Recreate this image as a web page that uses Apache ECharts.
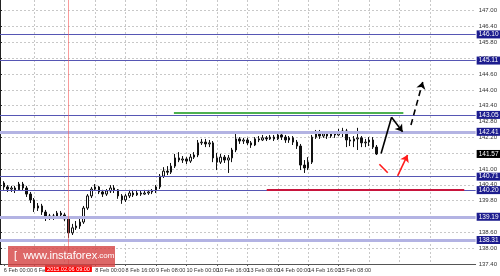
<!DOCTYPE html>
<html><head><meta charset="utf-8">
<script src="https://cdn.jsdelivr.net/npm/echarts@6/dist/echarts.min.js"></script>
<style>html,body{margin:0;padding:0;background:#fff;overflow:hidden}#c{width:500px;height:276px}</style>
</head><body><div id="c"></div>
<script>
// x-axis time labels (every 8th bar, starting at bar 1)
const tickLabels = ["6 Feb 00:00","6 Feb 16:00","","8 Feb 00:00","8 Feb 16:00","9 Feb 08:00","10 Feb 00:00","10 Feb 16:00","13 Feb 08:00","14 Feb 00:00","14 Feb 16:00","15 Feb 08:00","16 Feb 00:00"];
const barCount = 126; // bars incl. empty right margin

const opens = [140.66,140.47,140.32,140.24,140.28,140.21,140.43,140.28,140.05,139.83,
139.52,139.60,139.37,139.14,139.22,139.18,139.33,139.26,139.11,138.58,
138.77,138.84,138.99,139.52,139.98,140.24,140.32,140.13,140.05,140.17,
140.28,140.21,139.98,139.83,139.98,140.09,140.02,140.09,140.05,140.09,
140.13,140.17,140.32,140.73,140.92,140.88,141.11,141.42,141.34,141.38,
141.30,141.45,141.53,141.99,142.02,141.95,141.99,141.42,141.26,141.45,
141.34,141.42,141.72,142.14,142.06,142.10,141.99,141.91,142.14,142.10,
142.18,142.14,142.21,142.14,142.29,142.21,142.10,142.18,142.02,141.87,
141.15,141.04,141.26,142.21,142.40,142.25,142.33,142.25,142.33,142.29,
142.40,142.44,142.10,142.06,142.14,142.18,141.99,142.02,142.10,141.83];
const closes = [140.47,140.32,140.24,140.28,140.21,140.43,140.28,140.05,139.83,139.52,
139.60,139.37,139.14,139.22,139.18,139.33,139.26,139.11,138.58,138.77,
138.84,138.99,139.52,139.98,140.24,140.32,140.13,140.05,140.17,140.28,
140.21,139.98,139.83,139.98,140.09,140.02,140.09,140.05,140.09,140.13,
140.17,140.32,140.73,140.92,140.88,141.11,141.42,141.34,141.38,141.30,
141.45,141.53,141.99,142.02,141.95,141.99,141.42,141.26,141.45,141.34,
141.42,141.72,142.14,142.06,142.10,141.99,141.91,142.14,142.10,142.18,
142.14,142.21,142.14,142.29,142.21,142.10,142.18,142.02,141.87,141.15,
141.04,141.26,142.21,142.40,142.25,142.33,142.25,142.33,142.29,142.40,
142.44,142.10,142.06,142.14,142.18,141.99,142.02,142.10,141.83,141.57];
const highs = [140.77,140.54,140.39,140.36,140.36,140.51,140.51,140.36,140.13,139.90,
139.71,139.68,139.45,139.30,139.30,139.41,139.41,139.33,139.18,138.92,
139.03,139.22,139.60,140.05,140.32,140.43,140.36,140.21,140.24,140.39,
140.39,140.24,140.05,140.05,140.21,140.21,140.21,140.17,140.21,140.21,
140.24,140.39,140.81,141.07,141.11,141.23,141.57,141.64,141.49,141.45,
141.57,141.64,142.10,142.14,142.14,142.10,142.06,141.61,141.57,141.53,
141.53,141.80,142.40,142.21,142.18,142.18,142.06,142.21,142.25,142.29,
142.25,142.29,142.29,142.37,142.37,142.29,142.25,142.25,142.10,141.95,
141.34,141.45,142.29,142.48,142.48,142.44,142.40,142.44,142.44,142.52,
142.56,142.52,142.21,142.25,142.56,142.25,142.14,142.21,142.21,141.91];
const lows = [140.36,140.21,140.13,140.13,140.09,140.17,140.17,139.94,139.71,139.37,
139.41,139.26,139.03,139.07,139.07,139.14,139.14,139.03,138.39,138.50,
138.69,138.73,138.92,139.45,139.90,140.17,140.05,139.94,139.98,140.09,
140.09,139.87,139.68,139.75,139.90,139.94,139.98,139.98,140.02,140.02,
140.05,140.09,140.24,140.66,140.77,140.81,141.04,141.26,141.23,141.19,
141.23,141.38,141.45,141.91,141.83,141.83,141.26,140.96,141.19,141.23,
140.85,141.26,141.64,141.95,141.95,141.91,141.80,141.87,142.02,142.06,
142.06,142.10,142.06,142.10,142.10,141.99,141.99,141.91,141.76,140.96,
140.85,140.96,141.19,142.14,142.14,142.18,142.14,142.18,142.18,142.25,
142.21,141.83,141.87,141.83,141.72,141.83,141.83,141.87,141.76,141.53];

// horizontal levels
const levelValues = [146.10, 145.11, 143.05, 142.41, 140.71, 140.20, 139.19, 138.31];
const levelThick  = [false,  false,  false,  true,   false,  false,  true,   true];
const greenLevel = 143.13, greenFrom = 45.7, greenTo = 106.0;
const redLevel = 140.20, redFrom = 70.1, redTo = 122.0;
const crosshairBar = 18, crosshairText = "2015.02.06 09:00";
// forecast arrows (bar index, price)
const blackPath1 = [[100.15,141.59],[102.9,142.96]];
const blackPath2 = [[102.9,142.96],[105.8,142.41]];
const redDash = [[99.7,141.18],[101.9,140.86]];
const redArrow = [[104.5,140.74],[107.1,141.53]];
const blackDashArrow = [[108.0,142.67],[111.1,144.30]];

const yMin = 137.4, yMax = 147.405, yStep = 0.6;

const categories = [];
for (let i = 0; i < barCount; i++) {
  const k = (i - 1) / 8;
  categories.push(Number.isInteger(k) && k >= 0 && k < tickLabels.length ? tickLabels[k] + '#' + i : 'b' + i);
}
const isTick = (i) => i >= 1 && (i - 1) % 8 === 0;
const labelOf = (i) => { const k = (i - 1) / 8; return (Number.isInteger(k) && k >= 0 && k < tickLabels.length) ? tickLabels[k] : ''; };
const candles = opens.map((o, i) => [o, closes[i], lows[i], highs[i]]);
const currentPrice = closes[closes.length - 1];

const FONT = 'Liberation Sans';
const boxLabel = (bg) => ({
  show: true, position: 'end', distance: 1, formatter: (p) => Number(p.value).toFixed(2),
  backgroundColor: bg, color: '#fff', fontSize: 6.5, fontFamily: FONT, padding: [1, 2, 0, 2], opacity: 1
});

const levelLines = levelValues.map((v, i) => ({
  yAxis: v,
  lineStyle: levelThick[i] ? { color: '#b3b3e3', width: 3, type: 'solid' } : { color: '#5656b4', width: 1, type: 'solid' },
  label: boxLabel('#1c1c8e')
}));
levelLines.push({ yAxis: currentPrice, lineStyle: { color: 'rgba(0,0,0,0)', width: 1 }, label: boxLabel('#000') });
levelLines.push({
  xAxis: crosshairBar,
  lineStyle: { color: 'rgba(245,90,90,0.6)', width: 1, type: 'solid' },
  label: { show: true, position: 'start', distance: 1, formatter: crosshairText, backgroundColor: '#ff0000', color: '#fff', fontSize: 5.5, fontFamily: FONT, padding: [1, 2, 0, 2] }
});

const chart = echarts.init(document.getElementById('c'), null, { renderer: 'canvas' });
chart.setOption({
  animation: false,
  textStyle: { fontFamily: FONT },
  grid: { left: -1, right: 23.6, top: 0, bottom: 12, containLabel: false },
  xAxis: [{
    type: 'category', data: categories, boundaryGap: false,
    axisLine: { show: true, lineStyle: { color: '#555', width: 1 } },
    axisTick: { show: true, interval: (i) => isTick(i) && i <= 97, length: 2, lineStyle: { color: '#555' } },
    axisLabel: { show: true, interval: (i) => isTick(i) && i <= 97, formatter: (v, i) => labelOf(i), align: 'left', fontSize: 5.5, color: '#333', margin: 3 },
    splitLine: { show: true, showMinLine: false, showMaxLine: false, interval: (i) => isTick(i), lineStyle: { color: '#c8c8c8', type: [2, 2], width: 1 } }
  }, {
    type: 'value', min: 0, max: barCount - 1, show: false, gridIndex: 0,
    splitLine: { show: false }, axisLine: { show: false }
  }],
  yAxis: {
    type: 'value', position: 'right', min: yMin, max: yMax, interval: yStep,
    axisLine: { show: true, lineStyle: { color: '#222', width: 1 } },
    axisTick: { show: true, length: 2, lineStyle: { color: '#222' } },
    axisLabel: { fontSize: 6, color: '#333', margin: 3, showMaxLabel: false, formatter: (v) => v.toFixed(2) },
    splitLine: { show: true, showMaxLine: false, lineStyle: { color: '#c8c8c8', type: [2, 2], width: 1 } }
  },
  series: [{
    type: 'candlestick', data: candles, barWidth: 2, xAxisIndex: 0, yAxisIndex: 0,
    itemStyle: { color: '#ffffff', borderColor: '#111', color0: '#111', borderColor0: '#111', borderWidth: 1 },
    markLine: { silent: true, symbol: ['none', 'none'], animation: false, data: levelLines, z: 3 }
  }, {
    type: 'lines', coordinateSystem: 'cartesian2d', xAxisIndex: 1, yAxisIndex: 0, z: 4,
    symbol: ['none', 'none'],
    data: [
      { coords: [[greenFrom, greenLevel], [greenTo, greenLevel]], lineStyle: { color: '#4db04f', width: 2, opacity: 1 } },
      { coords: [[redFrom, redLevel], [redTo, redLevel]], lineStyle: { color: '#c8143c', width: 2, opacity: 1 } },
      { coords: blackPath1, lineStyle: { color: '#000', width: 1.6, opacity: 1 } },
      { coords: redDash, lineStyle: { color: '#ff1a1a', width: 1.6, opacity: 1 } }
    ]
  }, {
    type: 'lines', coordinateSystem: 'cartesian2d', xAxisIndex: 1, yAxisIndex: 0, z: 4,
    symbol: ['none', 'arrow'], symbolSize: 7,
    data: [
      { coords: blackPath2, lineStyle: { color: '#000', width: 1.6, opacity: 1 } },
      { coords: redArrow, lineStyle: { color: '#ff1a1a', width: 1.6, opacity: 1 } },
      { coords: blackDashArrow, lineStyle: { color: '#000', width: 1.6, opacity: 1, type: [6, 4] } }
    ]
  }],
  graphic: [
    { type: 'rect', left: 8, top: 246, shape: { width: 107, height: 21 }, style: { fill: 'rgba(214,70,70,0.82)' }, z: 100 },
    { type: 'text', left: 14, top: 250, z: 101, style: { text: '{a|[  www.instaforex}{b|.com}{a| ]}', rich: { a: { fontSize: 11, fill: '#fff', fontFamily: FONT }, b: { fontSize: 8, fill: '#fff', fontFamily: FONT } } } }
  ]
});
</script></body></html>
